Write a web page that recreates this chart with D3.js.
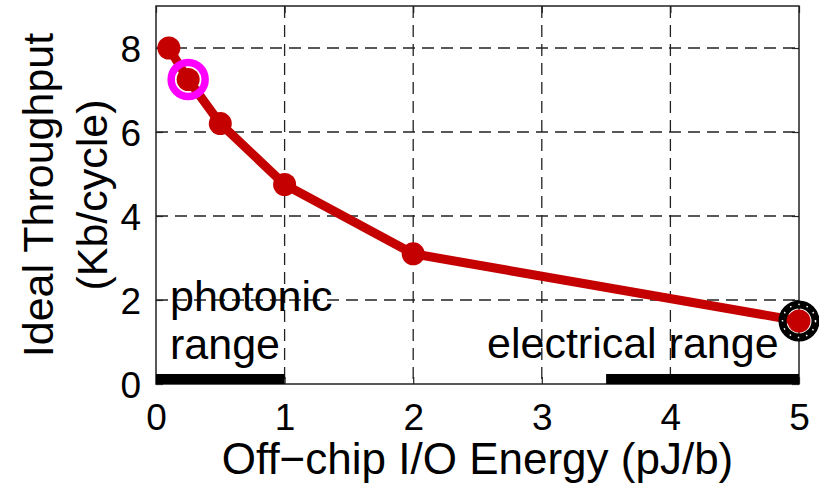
<!DOCTYPE html>
<html><head><meta charset="utf-8">
<script src="https://cdn.jsdelivr.net/npm/d3@7"></script>
<style>
html,body{margin:0;padding:0;background:#fff;}
svg{display:block;font-family:"Liberation Sans",Arial,Helvetica,sans-serif;}
</style></head>
<body><svg id="c" width="819" height="485"></svg>
<script>
const energy = [0.1, 0.25, 0.5, 1, 2, 5];
const throughput = [8.0, 7.25, 6.2, 4.75, 3.1, 1.5];
const xTicks = [0, 1, 2, 3, 4, 5];
const yTicks = [0, 2, 4, 6, 8];
const photonicRange = [0, 1];
const electricalRange = [3.5, 5];
const magentaPoint = [0.25, 7.25];
const blackPoint = [5, 1.5];

const svg = d3.select("#c");
const L = 156, R = 799, T = 6, B = 384;
const x = d3.scaleLinear().domain([0, 5]).range([L, R]);
const y = d3.scaleLinear().domain([0, 9]).range([B, T]);

// grid
const g = svg.append("g");
g.selectAll(".gx").data(xTicks.filter(d => d > 0 && d < 5)).enter().append("line")
  .attr("x1", d => x(d)).attr("x2", d => x(d)).attr("y1", T).attr("y2", B)
  .attr("stroke", "#222").attr("stroke-width", 1.3).attr("stroke-dasharray", "12,7");
g.selectAll(".gy").data(yTicks.filter(d => d > 0)).enter().append("line")
  .attr("y1", d => y(d)).attr("y2", d => y(d)).attr("x1", L).attr("x2", R)
  .attr("stroke", "#222").attr("stroke-width", 1.3).attr("stroke-dasharray", "12,7");

// axes with inward ticks
const xAxis = svg.append("g").attr("transform", `translate(0,${B})`)
  .call(d3.axisBottom(x).tickValues(xTicks).tickSize(-7).tickFormat(d3.format("d")));
const yAxis = svg.append("g").attr("transform", `translate(${L},0)`)
  .call(d3.axisLeft(y).tickValues(yTicks).tickSize(-7).tickPadding(15).tickFormat(d3.format("d")));
svg.append("g").attr("transform", `translate(0,${T})`)
  .call(d3.axisTop(x).tickValues(xTicks).tickSize(-7).tickFormat(""));
svg.append("g").attr("transform", `translate(${R},0)`)
  .call(d3.axisRight(y).tickValues(yTicks).tickSize(-7).tickFormat(""));
svg.selectAll(".domain").remove();
svg.selectAll(".tick line").attr("stroke", "#222").attr("stroke-width", 1.2);
xAxis.selectAll(".tick text").attr("font-size", 37).attr("fill", "#000").attr("dy", null).attr("y", 46);
yAxis.selectAll(".tick text").attr("font-size", 37).attr("fill", "#000").attr("dy", "0.36em");

// frame
svg.append("rect").attr("x", L).attr("y", T).attr("width", R - L).attr("height", B - T)
  .attr("fill", "none").attr("stroke", "#222").attr("stroke-width", 1.5);

// range bars
[photonicRange, electricalRange].forEach(r => {
  svg.append("rect").attr("x", x(r[0])).attr("y", y(0) - 10)
    .attr("width", x(r[1]) - x(r[0])).attr("height", 10).attr("fill", "#000");
});

// annotations
const fs = 43;
svg.append("text").attr("x", 170).attr("y", 311).attr("font-size", fs).text("photonic");
svg.append("text").attr("x", 170).attr("y", 359).attr("font-size", fs).text("range");
svg.append("text").attr("x", 487).attr("y", 358).attr("font-size", fs).text("electrical range");

// data line
const red = "#c40000";
svg.append("path").datum(energy.map((e, i) => [e, throughput[i]]))
  .attr("d", d3.line().x(d => x(d[0])).y(d => y(d[1])))
  .attr("fill", "none").attr("stroke", red).attr("stroke-width", 9).attr("stroke-linejoin", "round");
svg.selectAll(".pt").data(energy.map((e, i) => [e, throughput[i]])).enter().append("circle")
  .attr("cx", d => x(d[0])).attr("cy", d => y(d[1])).attr("r", 11.5).attr("fill", red);

// highlight circles
svg.append("circle").attr("cx", x(magentaPoint[0])).attr("cy", y(magentaPoint[1]))
  .attr("r", 17).attr("fill", "none").attr("stroke", "#ff00ff").attr("stroke-width", 7.5);
svg.append("circle").attr("cx", x(blackPoint[0])).attr("cy", y(blackPoint[1]))
  .attr("r", 16.5).attr("fill", "none").attr("stroke", "#000").attr("stroke-width", 8);
svg.append("circle").attr("cx", x(blackPoint[0])).attr("cy", y(blackPoint[1]))
  .attr("r", 16.5).attr("fill", "none").attr("stroke", "#fff").attr("stroke-width", 1.5)
  .attr("stroke-dasharray", "1.5,7");

// axis labels
svg.append("text").attr("x", x(2.5)).attr("y", 474).attr("text-anchor", "middle")
  .attr("font-size", 44).text("Off\u2212chip I/O Energy (pJ/b)");
const cy = (T + B) / 2;
svg.append("text").attr("transform", `translate(53,${cy}) rotate(-90)`).attr("text-anchor", "middle")
  .attr("font-size", 43).text("Ideal Throughput");
svg.append("text").attr("transform", `translate(107,${cy}) rotate(-90)`).attr("text-anchor", "middle")
  .attr("font-size", 43).text("(Kb/cycle)");
</script></body></html>
